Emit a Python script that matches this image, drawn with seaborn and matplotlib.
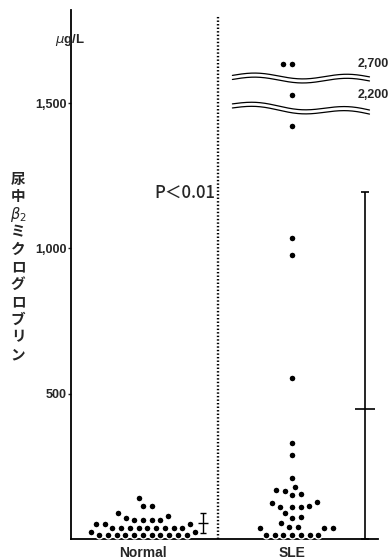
import seaborn as sns
import matplotlib.pyplot as plt
import pandas as pd
import numpy as np

# Data (urinary beta2-microglobulin, ug/L)
groups = ['Normal', 'SLE']
normal_values = [140, 114, 114, 88, 80, 72, 65, 65, 65, 65, 51, 51, 51,
                 38, 38, 38, 38, 38, 38, 38, 38, 38, 24, 24,
                 13, 13, 13, 13, 13, 13, 13, 13, 13, 13, 13]
sle_values = [2700, 2700, 2200, 1421, 1037, 977, 555, 330, 289, 210,
              178, 169, 166, 155, 151, 128, 123, 113, 111, 111, 111,
              90, 75, 71, 54, 42, 42, 39, 37, 37,
              15, 15, 15, 15, 15, 15, 15]
means = [55, 447]
sds = [34, 748]
yticks = [500, 1000, 1500]
ytick_labels = ['500', '1,000', '1,500']
# broken axis: true value -> display height of the compressed segment
break_values = [2200, 2700]
break_display = [1528, 1634]
break_labels = ['2,200', '2,700']
ylabel_chars = ['尿', '中', r'$\beta_2$', 'ミ', 'ク', 'ロ', 'グ', 'ロ', 'ブ', 'リ', 'ン']


def to_display(v):
    for bv, bd in zip(break_values[::-1], break_display[::-1]):
        if v >= bv:
            return bd + (v - bv) * 0.2
    return v


df = pd.DataFrame({
    'group': ['Normal'] * len(normal_values) + ['SLE'] * len(sle_values),
    'value': normal_values + sle_values,
})
df['pos'] = df['value'].map(to_display)

sns.set_style('white')
plt.rcParams['font.family'] = ['Liberation Sans', 'Noto Sans CJK JP', 'DejaVu Sans']
plt.rcParams['mathtext.fontset'] = 'dejavusans'

fig = plt.figure(figsize=(3.91, 5.59), dpi=100)
ax = fig.add_axes([71 / 391, 20 / 559, 307 / 391, 529 / 559])

sns.swarmplot(data=df, x='group', y='pos', order=groups, color='black',
              size=5.0, linewidth=1.0, edgecolor='white', ax=ax)

# mean +/- SD markers
ax.errorbar([0.40], [means[0]], yerr=[[sds[0]], [sds[0]]], fmt='_', color='black',
            markersize=7, capsize=2, elinewidth=1.0, capthick=1.0, mew=1.0)
ax.errorbar([1.49], [means[1]], yerr=[[means[1]], [sds[1]]], fmt='_', color='black',
            markersize=15, capsize=3, elinewidth=1.2, capthick=1.2, mew=1.2)

# dotted separator
ax.plot([0.503, 0.503], [0, 1803], color='black', lw=1.7, dashes=(0.6, 0.9))

# wavy break marks
xw = np.linspace(0.60, 1.52, 200)
for yc, tilt in [(1588, -6), (1490, -22)]:
    for off in (7, -7):
        yw = yc + off + 9 * np.sin((xw - 0.6) / 0.62 * 2 * np.pi) + tilt * (xw - 0.6) / 0.92
        ax.plot(xw, yw, color='black', lw=0.9)

for lab, bd in zip(break_labels, break_display):
    ax.text(1.44, bd, lab, ha='left', va='center', fontsize=9, fontweight='bold')

ax.text(0.485, 1190, 'P＜0.01', ha='right', va='center', fontsize=12,
        fontweight='medium', family=['Noto Sans CJK JP', 'DejaVu Sans'])

ax.set_xlim(-0.483, 1.577)
ax.set_ylim(0, 1820)
ax.set_yticks(yticks)
ax.set_yticklabels(ytick_labels, fontsize=9, fontweight='bold')
ax.set_xticks([0, 1])
ax.set_xticklabels(groups, fontsize=10, fontweight='bold')
ax.tick_params(axis='y', length=2, width=1, pad=1, direction='out', left=True)
ax.tick_params(axis='x', length=0, pad=5)
ax.set_xlabel('')
ax.set_ylabel('')
for s in ['top', 'right']:
    ax.spines[s].set_visible(False)
for s in ['left', 'bottom']:
    ax.spines[s].set_color('black')
    ax.spines[s].set_linewidth(1.3)

fig.text(70 / 391, 1 - 40 / 559, r'$\mu$g/L', ha='center', va='center',
         fontsize=9.5, fontweight='bold')

for i, ch in enumerate(ylabel_chars):
    fig.text(18 / 391, 1 - (179 + 17.5 * i) / 559, ch, ha='center', va='center',
             fontsize=10.5, fontweight='bold',
             family=['Noto Sans CJK JP', 'DejaVu Sans'])

fig.savefig('out.png', dpi=100)
